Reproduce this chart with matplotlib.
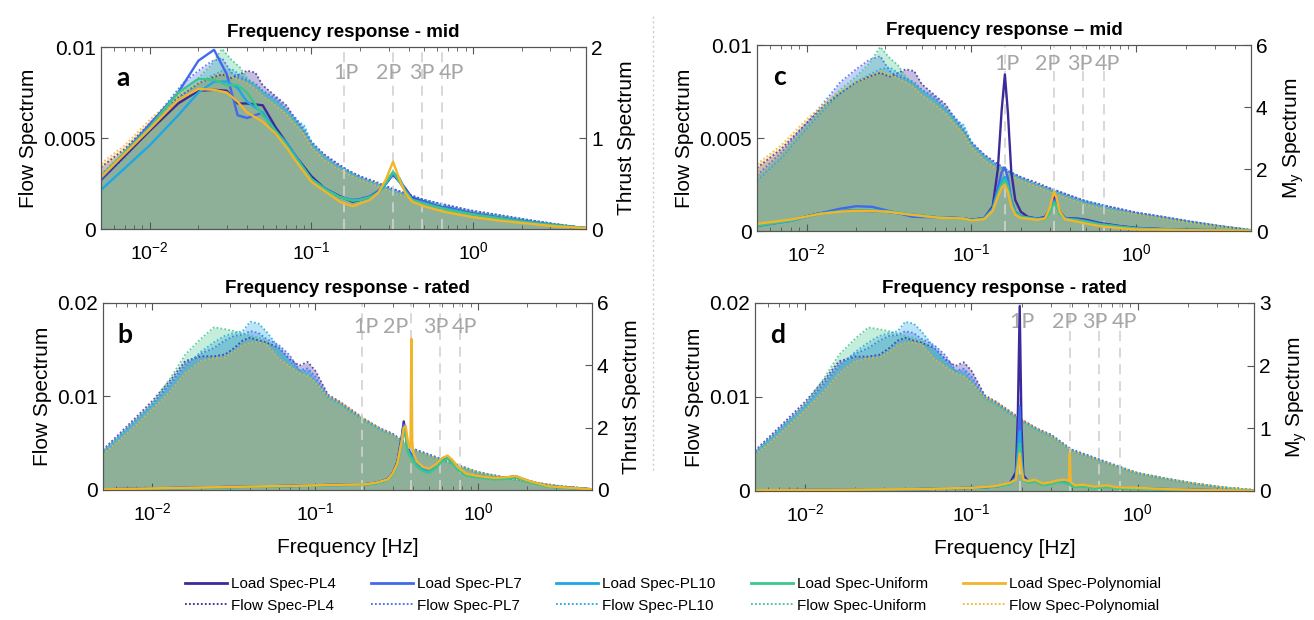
import matplotlib
matplotlib.use('Agg')
from matplotlib import pyplot as plt, font_manager
from matplotlib.lines import Line2D

# ---------------- data ----------------
SERIES = ['PL4', 'PL7', 'PL10', 'Uniform', 'Polynomial']
COLORS = ['#3b2a9a', '#4169f0', '#1ea7e6', '#3cc68a', '#f2b52a']

# flow spectra (shared by load cases of the same wind condition)
FLOW_FREQ = [0.005, 0.007, 0.01, 0.013, 0.016, 0.02, 0.024, 0.028,
             0.032, 0.036, 0.04, 0.045, 0.05, 0.06, 0.07, 0.08,
             0.09, 0.1, 0.12, 0.14, 0.17, 0.2, 0.25, 0.3,
             0.4, 0.5, 0.7, 1.0, 1.5, 2.2, 3.2, 5.0]

MID_PL4 = [0.0034, 0.0044, 0.0058, 0.0068, 0.0074, 0.0080, 0.0083, 0.0085,
           0.0083, 0.0085, 0.0087, 0.0086, 0.0079, 0.0073, 0.0068, 0.0060,
           0.0054, 0.0048, 0.0041, 0.0037, 0.0032, 0.0029, 0.0026, 0.0023,
           0.0019, 0.0016, 0.0013, 0.0010, 0.00075, 0.0005, 0.00028, 0.00006]
MID_PL7 = [0.0030, 0.0042, 0.0058, 0.0070, 0.0080, 0.0087, 0.0092, 0.0094,
           0.0086, 0.0083, 0.0082, 0.0080, 0.0076, 0.0072, 0.0066, 0.0061,
           0.0055, 0.0047, 0.0041, 0.0036, 0.0032, 0.0029, 0.0025, 0.0023,
           0.0019, 0.0016, 0.0013, 0.0010, 0.00075, 0.0005, 0.00028, 0.00006]
MID_PL10 = [0.0027, 0.0039, 0.0055, 0.0066, 0.0074, 0.0080, 0.0084, 0.0087,
            0.0088, 0.0085, 0.0082, 0.0079, 0.0076, 0.0071, 0.0066, 0.0060,
            0.0057, 0.0048, 0.0040, 0.0036, 0.0032, 0.0028, 0.0025, 0.0022,
            0.0018, 0.0016, 0.0012, 0.00095, 0.0007, 0.00048, 0.00028, 0.00006]
MID_UNI = [0.0028, 0.0040, 0.0056, 0.0068, 0.0076, 0.0083, 0.0090, 0.0099,
           0.0093, 0.0089, 0.0083, 0.0079, 0.0075, 0.0070, 0.0065, 0.0059,
           0.0054, 0.0046, 0.0040, 0.0035, 0.0031, 0.0028, 0.0025, 0.0022,
           0.0018, 0.0015, 0.0012, 0.0009, 0.0007, 0.00045, 0.00025, 0.00005]
MID_POLY = [0.0036, 0.0046, 0.0060, 0.0069, 0.0075, 0.0080, 0.0083, 0.0086,
            0.0084, 0.0082, 0.0080, 0.0077, 0.0073, 0.0068, 0.0063, 0.0057,
            0.0052, 0.0045, 0.0038, 0.0034, 0.0030, 0.0027, 0.0024, 0.0021,
            0.0017, 0.0014, 0.0011, 0.0009, 0.00065, 0.00042, 0.00024, 0.00005]

RATED_PL4 = [0.0043, 0.0068, 0.0095, 0.0118, 0.0138, 0.0143, 0.0143, 0.0145,
             0.0152, 0.0160, 0.0163, 0.0160, 0.0158, 0.0152, 0.0140, 0.0133,
             0.0137, 0.0128, 0.0102, 0.0095, 0.0085, 0.0076, 0.0066, 0.0060,
             0.0044, 0.0038, 0.0028, 0.0019, 0.0013, 0.0008, 0.0004, 0.0001]
RATED_PL7 = [0.0041, 0.0066, 0.0092, 0.0115, 0.0135, 0.0146, 0.0152, 0.0160,
             0.0165, 0.0166, 0.0170, 0.0168, 0.0162, 0.0155, 0.0144, 0.0128,
             0.0130, 0.0122, 0.0100, 0.0095, 0.0083, 0.0076, 0.0066, 0.0060,
             0.0044, 0.0038, 0.0029, 0.0019, 0.0013, 0.0008, 0.0004, 0.0001]
RATED_PL10 = [0.0042, 0.0066, 0.0091, 0.0113, 0.0132, 0.0148, 0.0158, 0.0165,
              0.0168, 0.0170, 0.0180, 0.0178, 0.0170, 0.0152, 0.0138, 0.0128,
              0.0127, 0.0118, 0.0100, 0.0093, 0.0083, 0.0075, 0.0065, 0.0059,
              0.0043, 0.0037, 0.0028, 0.0019, 0.0013, 0.0008, 0.0004, 0.0001]
RATED_UNI = [0.0040, 0.0064, 0.0092, 0.0120, 0.0145, 0.0162, 0.0174, 0.0172,
             0.0170, 0.0167, 0.0165, 0.0163, 0.0160, 0.0148, 0.0135, 0.0127,
             0.0123, 0.0115, 0.0098, 0.0092, 0.0082, 0.0074, 0.0064, 0.0058,
             0.0042, 0.0036, 0.0027, 0.0018, 0.0012, 0.0008, 0.0004, 0.0001]
RATED_POLY = [0.0038, 0.0060, 0.0086, 0.0106, 0.0125, 0.0138, 0.0141, 0.0142,
              0.0148, 0.0155, 0.0158, 0.0158, 0.0156, 0.0140, 0.0132, 0.0125,
              0.0122, 0.0115, 0.0100, 0.0095, 0.0085, 0.0076, 0.0066, 0.0059,
              0.0043, 0.0037, 0.0028, 0.0019, 0.0013, 0.0008, 0.0004, 0.0001]

# (a) thrust spectrum, mid
FREQ_A = [0.005, 0.01, 0.015, 0.02, 0.025, 0.03, 0.035, 0.04,
          0.05, 0.06, 0.07, 0.08, 0.1, 0.12, 0.15, 0.18,
          0.2, 0.23, 0.26, 0.29, 0.32, 0.35, 0.38, 0.42,
          0.5, 0.6, 0.7, 1.0, 1.5, 2.2, 3.2, 5.0]
LOAD_A_PL4 = [0.54, 1.08, 1.38, 1.52, 1.53, 1.52, 1.38, 1.38,
              1.36, 1.12, 0.95, 0.80, 0.58, 0.45, 0.36, 0.30,
              0.32, 0.35, 0.41, 0.50, 0.60, 0.52, 0.45, 0.34,
              0.30, 0.25, 0.23, 0.17, 0.12, 0.08, 0.04, 0.01]
LOAD_A_PL7 = [0.55, 1.15, 1.50, 1.85, 1.97, 1.70, 1.25, 1.22,
              1.28, 1.05, 0.92, 0.78, 0.55, 0.45, 0.35, 0.32,
              0.33, 0.36, 0.42, 0.52, 0.60, 0.55, 0.44, 0.33,
              0.30, 0.25, 0.23, 0.17, 0.12, 0.08, 0.04, 0.01]
LOAD_A_PL10 = [0.43, 0.92, 1.25, 1.50, 1.62, 1.62, 1.55, 1.40,
               1.28, 1.08, 0.95, 0.80, 0.55, 0.45, 0.35, 0.32,
               0.32, 0.34, 0.40, 0.50, 0.62, 0.56, 0.42, 0.32,
               0.28, 0.24, 0.22, 0.16, 0.12, 0.08, 0.04, 0.01]
LOAD_A_UNI = [0.58, 1.12, 1.50, 1.65, 1.64, 1.58, 1.58, 1.50,
              1.25, 1.08, 0.92, 0.78, 0.55, 0.44, 0.35, 0.31,
              0.32, 0.35, 0.40, 0.52, 0.63, 0.52, 0.42, 0.32,
              0.28, 0.24, 0.21, 0.16, 0.11, 0.07, 0.04, 0.01]
LOAD_A_POLY = [0.57, 1.10, 1.42, 1.54, 1.53, 1.50, 1.40, 1.28,
               1.18, 1.05, 0.90, 0.75, 0.52, 0.42, 0.30, 0.25,
               0.28, 0.32, 0.40, 0.55, 0.74, 0.55, 0.40, 0.30,
               0.25, 0.21, 0.18, 0.13, 0.09, 0.06, 0.03, 0.01]

# (b) thrust spectrum, rated
FREQ_B = [0.005, 0.01, 0.02, 0.04, 0.07, 0.1, 0.15, 0.2,
          0.24, 0.28, 0.3, 0.32, 0.34, 0.35, 0.36, 0.37,
          0.38, 0.385, 0.39, 0.395, 0.4, 0.42, 0.46, 0.5,
          0.55, 0.6, 0.65, 0.7, 0.75, 0.85, 1.0, 1.25,
          1.5, 1.7, 2.0, 2.7, 5.0]
LOAD_B_PL4 = [0.02, 0.05, 0.08, 0.11, 0.13, 0.15, 0.17, 0.18,
              0.24, 0.35, 0.55, 0.90, 1.70, 2.20, 1.85, 1.40,
              1.22, 1.18, 1.15, 1.12, 1.05, 0.88, 0.72, 0.66,
              0.80, 1.00, 1.08, 0.92, 0.72, 0.50, 0.44, 0.38,
              0.40, 0.44, 0.30, 0.12, 0.02]
LOAD_B_PL7 = [0.02, 0.05, 0.08, 0.11, 0.13, 0.15, 0.17, 0.18,
              0.24, 0.35, 0.55, 0.88, 1.65, 2.10, 1.80, 1.35,
              1.20, 1.16, 1.14, 1.10, 1.02, 0.86, 0.70, 0.64,
              0.78, 0.98, 1.06, 0.90, 0.70, 0.50, 0.44, 0.38,
              0.40, 0.43, 0.30, 0.12, 0.02]
LOAD_B_PL10 = [0.01, 0.04, 0.07, 0.10, 0.12, 0.14, 0.16, 0.17,
               0.22, 0.33, 0.52, 0.84, 1.55, 1.95, 1.75, 1.30,
               1.15, 1.10, 1.08, 1.05, 0.98, 0.82, 0.66, 0.60,
               0.74, 0.95, 1.04, 0.88, 0.68, 0.48, 0.42, 0.36,
               0.38, 0.41, 0.28, 0.11, 0.02]
LOAD_B_UNI = [0.01, 0.04, 0.07, 0.10, 0.12, 0.14, 0.16, 0.17,
              0.22, 0.32, 0.50, 0.82, 1.50, 1.90, 1.70, 1.25,
              1.10, 1.05, 1.02, 1.00, 0.92, 0.76, 0.60, 0.55,
              0.70, 0.92, 1.00, 0.85, 0.65, 0.46, 0.40, 0.34,
              0.36, 0.40, 0.27, 0.10, 0.02]
LOAD_B_POLY = [0.02, 0.05, 0.08, 0.11, 0.13, 0.15, 0.17, 0.18,
               0.24, 0.34, 0.54, 0.85, 1.55, 2.00, 2.05, 1.60,
               1.35, 1.45, 4.85, 1.55, 1.20, 0.92, 0.74, 0.68,
               0.82, 1.02, 1.10, 0.95, 0.74, 0.52, 0.45, 0.39,
               0.41, 0.45, 0.31, 0.12, 0.02]

# (c) My spectrum, mid
FREQ_C = [0.005, 0.008, 0.012, 0.016, 0.02, 0.025, 0.031, 0.044,
          0.063, 0.09, 0.1, 0.12, 0.135, 0.145, 0.153, 0.16,
          0.167, 0.175, 0.185, 0.2, 0.22, 0.25, 0.28, 0.3,
          0.31, 0.32, 0.33, 0.345, 0.37, 0.44, 0.5, 0.6,
          0.8, 1.0, 1.5, 2.5, 5.0]
LOAD_C_PL4 = [0.19, 0.35, 0.57, 0.64, 0.66, 0.64, 0.62, 0.52,
              0.44, 0.41, 0.36, 0.42, 0.80, 2.00, 3.90, 5.05,
              3.80, 1.90, 1.00, 0.62, 0.46, 0.40, 0.45, 0.70,
              0.95, 1.10, 0.95, 0.62, 0.42, 0.40, 0.36, 0.26,
              0.16, 0.10, 0.06, 0.03, 0.02]
LOAD_C_PL7 = [0.16, 0.33, 0.57, 0.72, 0.80, 0.78, 0.66, 0.46,
              0.44, 0.41, 0.35, 0.42, 0.75, 1.40, 1.90, 2.05,
              1.70, 1.00, 0.62, 0.48, 0.44, 0.40, 0.42, 0.65,
              0.88, 1.00, 0.85, 0.58, 0.42, 0.38, 0.33, 0.24,
              0.15, 0.09, 0.05, 0.03, 0.02]
LOAD_C_PL10 = [0.17, 0.33, 0.55, 0.63, 0.65, 0.64, 0.62, 0.52,
               0.44, 0.41, 0.35, 0.40, 0.70, 1.25, 1.60, 1.75,
               1.50, 0.95, 0.60, 0.47, 0.43, 0.39, 0.40, 0.62,
               0.82, 0.95, 0.82, 0.56, 0.40, 0.36, 0.31, 0.22,
               0.14, 0.08, 0.05, 0.03, 0.02]
LOAD_C_UNI = [0.18, 0.34, 0.56, 0.64, 0.66, 0.66, 0.64, 0.53,
              0.44, 0.40, 0.35, 0.40, 0.68, 1.20, 1.50, 1.65,
              1.40, 0.90, 0.58, 0.46, 0.42, 0.38, 0.38, 0.58,
              0.78, 0.90, 0.78, 0.54, 0.39, 0.35, 0.30, 0.21,
              0.13, 0.08, 0.05, 0.03, 0.02]
LOAD_C_POLY = [0.23, 0.37, 0.55, 0.62, 0.65, 0.64, 0.62, 0.52,
               0.43, 0.40, 0.34, 0.38, 0.65, 1.10, 1.40, 1.50,
               1.25, 0.80, 0.52, 0.42, 0.40, 0.36, 0.40, 0.75,
               1.05, 1.26, 1.05, 0.62, 0.38, 0.30, 0.24, 0.16,
               0.09, 0.05, 0.04, 0.02, 0.01]

# (d) My spectrum, rated
FREQ_D = [0.005, 0.01, 0.02, 0.05, 0.1, 0.14, 0.17, 0.185,
          0.19, 0.195, 0.2, 0.205, 0.22, 0.24, 0.27, 0.3,
          0.33, 0.36, 0.385, 0.39, 0.395, 0.42, 0.47, 0.55,
          0.65, 0.75, 1.0, 1.5, 2.5, 5.0]
LOAD_D_PL4 = [0.01, 0.015, 0.02, 0.03, 0.05, 0.07, 0.12, 0.30,
              1.20, 2.95, 1.00, 0.25, 0.15, 0.17, 0.11, 0.13,
              0.16, 0.15, 0.12, 0.14, 0.11, 0.08, 0.09, 0.06,
              0.08, 0.05, 0.04, 0.03, 0.015, 0.005]
LOAD_D_PL7 = [0.01, 0.015, 0.02, 0.03, 0.05, 0.07, 0.12, 0.22,
              0.70, 1.35, 0.55, 0.20, 0.15, 0.17, 0.11, 0.13,
              0.16, 0.15, 0.12, 0.14, 0.11, 0.08, 0.09, 0.06,
              0.08, 0.05, 0.04, 0.03, 0.015, 0.005]
LOAD_D_PL10 = [0.01, 0.015, 0.02, 0.03, 0.05, 0.07, 0.11, 0.20,
               0.55, 0.95, 0.45, 0.18, 0.14, 0.16, 0.10, 0.12,
               0.15, 0.14, 0.12, 0.13, 0.10, 0.07, 0.08, 0.05,
               0.07, 0.05, 0.04, 0.03, 0.015, 0.005]
LOAD_D_UNI = [0.01, 0.015, 0.02, 0.03, 0.05, 0.07, 0.11, 0.18,
              0.45, 0.75, 0.38, 0.17, 0.13, 0.15, 0.09, 0.11,
              0.14, 0.13, 0.11, 0.12, 0.09, 0.06, 0.07, 0.04,
              0.06, 0.04, 0.03, 0.02, 0.01, 0.005]
LOAD_D_POLY = [0.01, 0.015, 0.02, 0.03, 0.05, 0.08, 0.13, 0.18,
               0.38, 0.60, 0.32, 0.18, 0.16, 0.18, 0.12, 0.14,
               0.17, 0.18, 0.16, 0.60, 0.14, 0.09, 0.10, 0.07,
               0.09, 0.06, 0.05, 0.03, 0.015, 0.005]

HARMONICS = ['1P', '2P', '3P', '4P']
MID_HARM = [0.16, 0.32, 0.48, 0.64]
RATED_HARM = [0.195, 0.39, 0.585, 0.78]


def pick_font(name, fallback='DejaVu Sans'):
    try:
        font_manager.findfont(name, fallback_to_default=False)
        return name
    except ValueError:
        return fallback


SANS = pick_font('Liberation Sans')
NARROW = pick_font('Liberation Sans Narrow', SANS)
CALIBRI = pick_font('Lato', SANS)
plt.rcParams['font.family'] = SANS
plt.rcParams['mathtext.fontset'] = 'custom'
plt.rcParams['mathtext.rm'] = SANS
FRAME = '#555555'


def draw_panel(box, flows, load_freq, loads, harm, label_freq, label_y, letter, title,
               flow_lim, flow_ticks, flow_labels, load_lim, load_ticks, right_label, xlabel):
    ax = fig.add_axes(box)
    for flow, c in zip(flows, COLORS):
        ax.fill_between(FLOW_FREQ, 0, flow, color=c, alpha=0.3, lw=0)
        ax.plot(FLOW_FREQ, flow, ls=(0, (1, 1.2)), color=c, lw=1.3, alpha=0.8)
    for f in harm:
        ax.axvline(f, color='#d2d2d2', lw=1.2, ls=(0, (6, 4)), zorder=3)
    for name, f in zip(HARMONICS, label_freq):
        ax.text(f, label_y, name, transform=ax.get_xaxis_transform(), ha='center', va='center',
                color='#a6a6a6', fontsize=15.5, family=CALIBRI, zorder=4)
    ax.text(0.045, 0.83, letter, transform=ax.transAxes, fontsize=19, fontweight='bold',
            family=CALIBRI, va='center', ha='center', zorder=5)
    ax.set_xscale('log')
    ax.set_xlim(0.005, 5)
    ax.set_ylim(*flow_lim)
    ax.set_yticks(flow_ticks)
    ax.set_yticklabels(flow_labels)
    ax.set_ylabel('Flow Spectrum', fontsize=15, labelpad=4)
    ax.set_title(title, fontsize=13.5, fontweight='bold', family=NARROW, pad=7)
    if xlabel:
        ax.set_xlabel('Frequency [Hz]', fontsize=15, labelpad=10)
    ax.tick_params(axis='x', which='both', direction='in', top=True, labelsize=14, pad=9,
                   color=FRAME)
    ax.tick_params(axis='x', which='major', length=5)
    ax.tick_params(axis='x', which='minor', length=3)
    ax.tick_params(axis='y', direction='in', labelsize=15, length=5, color=FRAME)

    ax2 = ax.twinx()
    for load, c in zip(loads, COLORS):
        ax2.plot(load_freq, load, color=c, lw=1.7)
    ax2.set_ylim(*load_lim)
    ax2.set_yticks(load_ticks)
    ax2.set_yticklabels([str(t) for t in load_ticks])
    ax2.set_ylabel(right_label, fontsize=15, labelpad=10)
    ax2.tick_params(axis='y', direction='in', labelsize=15, length=5, color=FRAME)
    for a in (ax, ax2):
        for s in a.spines.values():
            s.set_color(FRAME)
            s.set_linewidth(0.8)
    return ax, ax2


fig = plt.figure(figsize=(13.14, 6.2), dpi=100)

mid_flows = [MID_PL4, MID_PL7, MID_PL10, MID_UNI, MID_POLY]
rated_flows = [RATED_PL4, RATED_PL7, RATED_PL10, RATED_UNI, RATED_POLY]

draw_panel([0.0769, 0.6306, 0.3691, 0.2935], mid_flows, FREQ_A,
           [LOAD_A_PL4, LOAD_A_PL7, LOAD_A_PL10, LOAD_A_UNI, LOAD_A_POLY],
           MID_HARM, [0.163, 0.30, 0.48, 0.73], 0.86, 'a', 'Frequency response - mid',
           (0, 0.01), [0, 0.005, 0.01], ['0', '0.005', '0.01'],
           (0, 2), [0, 1, 2], 'Thrust Spectrum', False)
draw_panel([0.0784, 0.2097, 0.3721, 0.3016], rated_flows, FREQ_B,
           [LOAD_B_PL4, LOAD_B_PL7, LOAD_B_PL10, LOAD_B_UNI, LOAD_B_POLY],
           RATED_HARM, [0.204, 0.313, 0.55, 0.83], 0.87, 'b', 'Frequency response - rated',
           (0, 0.02), [0, 0.01, 0.02], ['0', '0.01', '0.02'],
           (0, 6), [0, 2, 4, 6], 'Thrust Spectrum', True)
draw_panel([0.5761, 0.6274, 0.3760, 0.3000], mid_flows, FREQ_C,
           [LOAD_C_PL4, LOAD_C_PL7, LOAD_C_PL10, LOAD_C_UNI, LOAD_C_POLY],
           MID_HARM, [0.165, 0.292, 0.455, 0.67], 0.90, 'c', 'Frequency response \u2013 mid',
           (0, 0.01), [0, 0.005, 0.01], ['0', '0.005', '0.01'],
           (0, 6), [0, 2, 4, 6], r'M$_\mathrm{y}$ Spectrum', False)
draw_panel([0.5746, 0.2081, 0.3798, 0.3032], rated_flows, FREQ_D,
           [LOAD_D_PL4, LOAD_D_PL7, LOAD_D_PL10, LOAD_D_UNI, LOAD_D_POLY],
           RATED_HARM, [0.202, 0.363, 0.555, 0.83], 0.90, 'd', 'Frequency response - rated',
           (0, 0.02), [0, 0.01, 0.02], ['0', '0.01', '0.02'],
           (0, 3), [0, 1, 2, 3], r'M$_\mathrm{y}$ Spectrum', True)

# dotted separator between the two columns
fig.add_artist(Line2D([653 / 1314, 653 / 1314], [0.975, 0.24], color='#cccccc',
                      lw=1, ls=(0, (1.5, 2))))

handles, labels = [], []
for name, c in zip(SERIES, COLORS):
    handles.append(Line2D([], [], color=c, lw=2))
    labels.append('Load Spec-' + name)
    handles.append(Line2D([], [], color=c, lw=1.3, ls=(0, (1, 1.2))))
    labels.append('Flow Spec-' + name)
fig.legend(handles, labels, loc='center', bbox_to_anchor=(0.512, 1 - 595 / 620), ncol=5,
           frameon=False, handlelength=2.75, handletextpad=0.25, columnspacing=2.3,
           labelspacing=0.5, prop={'family': NARROW, 'size': 11})

fig.savefig('out.png', dpi=100)
